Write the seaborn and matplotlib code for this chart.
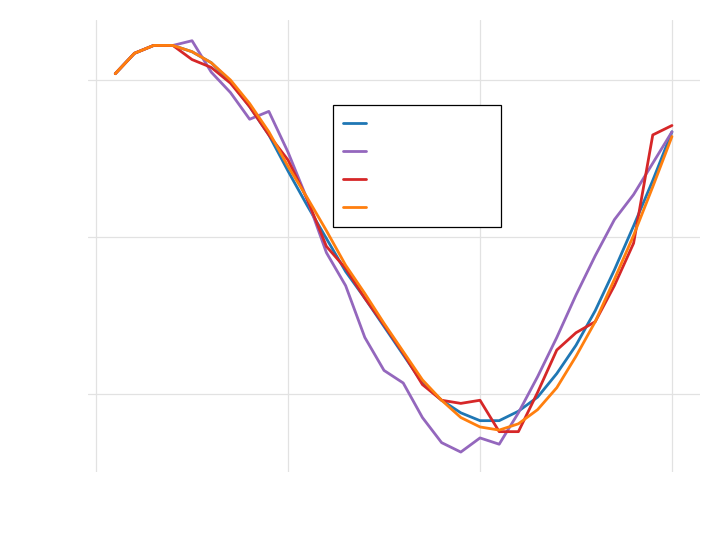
import numpy as np
import pandas as pd
import matplotlib
matplotlib.use("Agg")
import matplotlib.pyplot as plt
import seaborn as sns

# x positions (1..30)
steps = list(range(1, 31))

# four series
series_a = [1.04, 1.17, 1.22, 1.22, 1.18, 1.11, 0.99, 0.83, 0.65, 0.42,
            0.20, -0.01, -0.22, -0.39, -0.57, -0.75, -0.93, -1.04, -1.12, -1.17,
            -1.17, -1.11, -1.02, -0.87, -0.69, -0.47, -0.21, 0.07, 0.36, 0.67]
series_b = [1.04, 1.17, 1.22, 1.22, 1.25, 1.05, 0.92, 0.75, 0.80, 0.54,
            0.24, -0.10, -0.31, -0.64, -0.85, -0.93, -1.15, -1.31, -1.37, -1.28,
            -1.32, -1.12, -0.89, -0.64, -0.37, -0.12, 0.11, 0.27, 0.47, 0.67]
series_c = [1.04, 1.17, 1.22, 1.22, 1.13, 1.08, 0.98, 0.83, 0.65, 0.49,
            0.24, -0.06, -0.20, -0.39, -0.56, -0.74, -0.94, -1.04, -1.06, -1.04,
            -1.24, -1.24, -0.99, -0.72, -0.61, -0.54, -0.31, -0.04, 0.65, 0.71]
series_d = [1.04, 1.17, 1.22, 1.22, 1.18, 1.11, 1.00, 0.85, 0.67, 0.45,
            0.25, 0.04, -0.18, -0.36, -0.55, -0.73, -0.91, -1.04, -1.15, -1.21,
            -1.23, -1.19, -1.10, -0.96, -0.76, -0.54, -0.27, 0.01, 0.32, 0.64]

names = ["Group A data", "Group B data", "Group C data", "Group D data"]
colors = ["#1f77b4", "#9467bd", "#d62728", "#ff7f0e"]

df = pd.DataFrame({
    "x": steps * 4,
    "y": series_a + series_b + series_c + series_d,
    "series": sum([[n] * len(steps) for n in names], []),
})

sns.set_theme(style="whitegrid")
fig = plt.figure(figsize=(7.2, 5.4), dpi=100)
ax = fig.add_axes([88 / 720, 1 - 472 / 540, 612 / 720, 452 / 540])

sns.lineplot(data=df, x="x", y="y", hue="series", palette=colors,
             linewidth=2.0, ax=ax)

ax.set_xlim(-0.42, 31.46)
ax.set_ylim(-1.497, 1.382)
ax.set_xticks([0, 10, 20, 30])
ax.set_yticks([-1, 0, 1])
ax.set_xticklabels([])
ax.set_yticklabels([])
ax.set_xlabel("")
ax.set_ylabel("")
ax.tick_params(length=0)
ax.grid(True, color="#e2e2e2", linewidth=0.9)
for s in ax.spines.values():
    s.set_visible(False)

# legend text is drawn in white, as in the reference
leg = ax.legend(loc="upper left", bbox_to_anchor=(0.4003, 0.812),
                fontsize=12, handlelength=1.4, labelspacing=0.6,
                fancybox=False, framealpha=1, edgecolor="black",
                borderaxespad=0, borderpad=0.6)
leg.get_frame().set_linewidth(0.9)
for t in leg.get_texts():
    t.set_color("white")

fig.savefig("out.png", dpi=100)
